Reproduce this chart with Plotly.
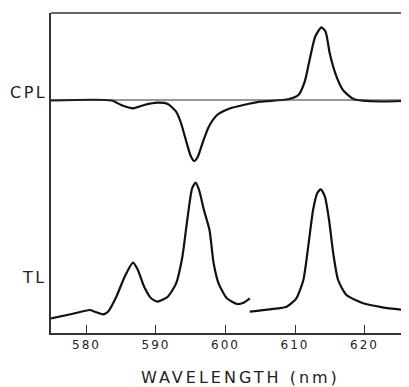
import plotly.graph_objects as go

# CPL spectrum (wavelength nm, signal relative to baseline; arbitrary units)
cpl_wl = [574.9, 583.6, 585.0, 586.7, 588.3, 590.2, 591.7, 592.9, 593.6, 594.3, 595.0,
          595.5, 596.0, 596.7, 597.6, 598.8, 600.7, 602.6, 605.0, 609.0, 610.5, 611.4,
          612.1, 612.9, 613.8, 614.4, 615.0, 615.8, 616.9, 618.5, 622.4, 626.4]
cpl_val = [-0.5, -0.5, -5, -8.3, -5, -2.7, -4, -11.7, -23, -40, -56,
           -61, -57, -43, -26.7, -15, -8.3, -5, -1.7, 0.7, 5, 18.3,
           40, 63.3, 72.7, 68.3, 46.7, 26.7, 10, 0.7, -1.5, -0.7]

# TL spectrum, first segment
tl1_wl = [574.9, 577.9, 580.5, 581.2, 582.4, 583.1, 584.3, 585.5, 586.7, 587.4, 588.3,
          589.3, 590.2, 591.7, 592.9, 593.8, 594.5, 595.2, 595.7, 596.2, 596.9, 597.7,
          598.3, 599.0, 600.2, 601.7, 602.6, 603.5]
tl1_val = [14.7, 19, 23, 21.3, 18.7, 21.3, 36.3, 56.3, 70.3, 63, 46.3,
           34.7, 31.3, 36.3, 49.7, 76.3, 113, 144.7, 150.3, 143, 123, 103,
           69.7, 49.7, 34.7, 29, 30.3, 34.7]

# TL spectrum, second segment
tl2_wl = [603.5, 606.4, 608.8, 610.2, 611.2, 611.9, 612.6, 613.2, 613.7, 614.3, 614.9,
          615.5, 616.2, 617.4, 619.8, 622.6, 626.4]
tl2_val = [21.3, 23.7, 26.3, 34.7, 53, 86.3, 123, 139.7, 143.7, 136.3, 113,
           79.7, 53, 38, 29.7, 25.7, 22.3]

x_ticks = [580, 590, 600, 610, 620]
cpl_offset = 233

fig = go.Figure()
line = dict(color="#111111", width=2.2, shape="spline", smoothing=0.6)
fig.add_trace(go.Scatter(x=cpl_wl, y=[v + cpl_offset for v in cpl_val], mode="lines", line=line))
fig.add_trace(go.Scatter(x=[574.9, 626.4], y=[cpl_offset, cpl_offset], mode="lines",
                         line=dict(color="#333333", width=1.2)))
fig.add_trace(go.Scatter(x=tl1_wl, y=tl1_val, mode="lines", line=line))
fig.add_trace(go.Scatter(x=tl2_wl, y=tl2_val, mode="lines", line=line))

font_family = "DejaVu Sans, Arial, sans-serif"


def spaced(s, px):
    return '<span style="letter-spacing:%gpx">%s</span>' % (px, s)


fig.update_layout(
    width=401, height=379,
    margin=dict(l=43, r=0, t=5, b=54, autoexpand=False),
    paper_bgcolor="white", plot_bgcolor="white",
    showlegend=False,
    xaxis=dict(range=[574.9, 626.4], tickvals=x_ticks,
               ticktext=[spaced(str(t), 2) for t in x_ticks],
               ticks="inside", ticklen=8, tickwidth=1.3, tickcolor="#333333",
               showline=True, linecolor="#333333", linewidth=1.5, mirror=False,
               showgrid=False, zeroline=False,
               tickfont=dict(family=font_family, size=12, color="#222222")),
    yaxis=dict(range=[0, 320], showline=True, linecolor="#333333", linewidth=1.5,
               showticklabels=False, ticks="", showgrid=False, zeroline=False),
    shapes=[dict(type="line", xref="paper", yref="paper", x0=0, x1=1, y0=1, y1=1,
                 line=dict(color="#333333", width=1.3))],
    annotations=[
        dict(text=spaced("CPL", 2.5), xref="paper", yref="y", x=0, y=241, xanchor="right",
             yanchor="middle", xshift=-2, showarrow=False,
             font=dict(family=font_family, size=16, color="#222222")),
        dict(text=spaced("TL", 2.5), xref="paper", yref="y", x=0, y=56, xanchor="right",
             yanchor="middle", xshift=-2, showarrow=False,
             font=dict(family=font_family, size=16, color="#222222")),
        dict(text=spaced("WAVELENGTH (nm)", 3), xref="paper", yref="paper", x=0.53, y=0,
             yshift=-44, xanchor="center", yanchor="middle", showarrow=False,
             font=dict(family=font_family, size=16, color="#222222")),
    ],
)

fig.write_html("out.html")
